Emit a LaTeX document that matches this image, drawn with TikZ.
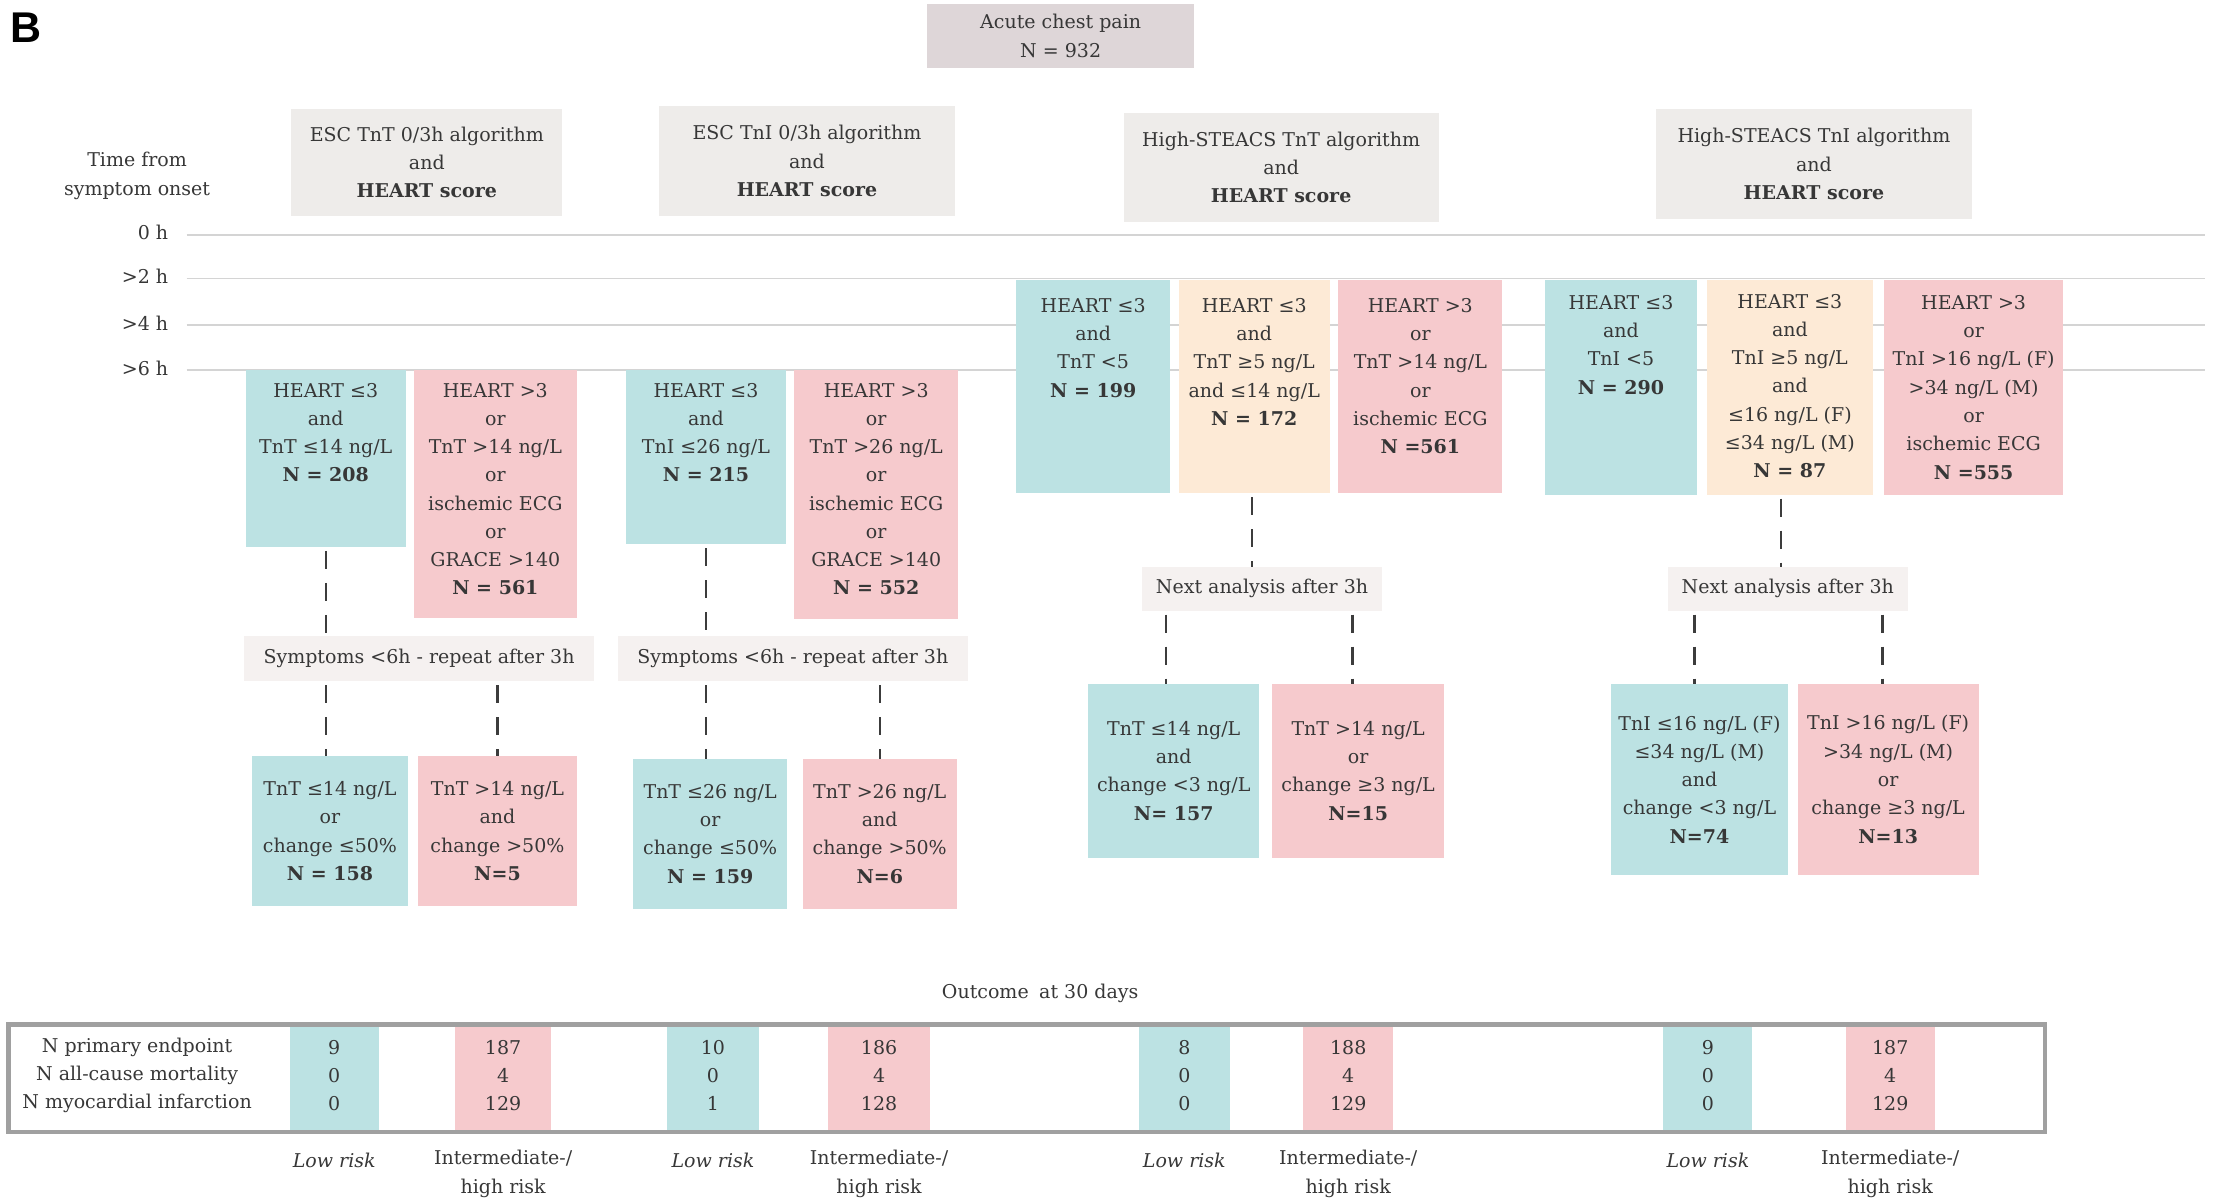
\documentclass[tikz,border=0pt]{standalone}
\usepackage{fontspec}
\setmainfont{DejaVu Serif}
\newfontfamily\labfont{Liberation Sans}
\usetikzlibrary{fit,calc}
\definecolor{tealc}{RGB}{188,226,227}
\definecolor{pinkc}{RGB}{246,202,205}
\definecolor{peachc}{RGB}{253,234,214}
\definecolor{headc}{RGB}{238,236,234}
\definecolor{acutec}{RGB}{222,214,216}
\definecolor{softc}{RGB}{245,241,240}
\definecolor{textc}{RGB}{55,55,55}
\definecolor{linec}{RGB}{212,212,212}
\definecolor{dashc}{RGB}{60,60,60}
\definecolor{bordc}{RGB}{160,160,160}
\tikzset{
  txt/.style={inner sep=0pt, outer sep=0pt, align=center, text=textc, font=\fontsize{9.5}{14.13}\selectfont},
  bx/.style={inner sep=0pt, outer sep=0pt, draw=none},
  lowbox/.style={bx, fill=tealc},
  highbox/.style={bx, fill=pinkc},
  midbox/.style={bx, fill=peachc},
  headbox/.style={bx, fill=headc},
  softbox/.style={bx, fill=softc},
  acutebox/.style={bx, fill=acutec},
  tline/.style={draw=linec, line width=0.9pt},
  dline/.style={draw=dashc, line width=1.2pt, dash pattern=on 9pt off 7pt, dash phase=-2pt},
}
% top-aligned box: name, style, corners, first-line y, text
\newcommand\tbox[5]{%
  \node[#2, fit={#3}] (#1) {};
  \node[txt, anchor=north] (#1-t) at (#1.north |- 0,#4-5) {#5};}
% centred box: name, style, corners, text
\newcommand\cbox[4]{%
  \node[#2, fit={#3}] (#1) {};
  \node[txt] (#1-t) at (#1.center) {#4};}
\begin{document}
\begin{tikzpicture}[x=0.70665pt, y=-0.70665pt]
\useasboundingbox (0,0) rectangle (1568,851);

\node[inner sep=0pt, anchor=base west, font=\labfont\bfseries\fontsize{21.5}{22}\selectfont] (lab) at (7,30) {B};

% time axis
\foreach \yy/\lbl [count=\k] in {166/0 h, 197/>2 h, 230/>4 h, 262/>6 h}{
  \draw[tline] (132,\yy) -- (1560,\yy);
  \node[txt, anchor=east] (tl\k) at (119,\yy-1.5) {\lbl};
}
\node[txt] (timelab) at (97,124.5) {Time from\\symptom onset};

% root
\cbox{acute}{acutebox}{(656,3) (845,48)}{Acute chest pain\\N = 932}

% headers
\cbox{h1}{headbox}{(206,77) (398,153)}{ESC TnT 0/3h algorithm\\and\\\textbf{HEART score}}
\cbox{h2}{headbox}{(466,75) (676,153)}{ESC TnI 0/3h algorithm\\and\\\textbf{HEART score}}
\cbox{h3}{headbox}{(795,80) (1018,157)}{High-STEACS TnT algorithm\\and\\\textbf{HEART score}}
\cbox{h4}{headbox}{(1172,77) (1395,155)}{High-STEACS TnI algorithm\\and\\\textbf{HEART score}}

% ESC TnT
\tbox{e1l}{lowbox}{(174,262) (287,387)}{276}{HEART ≤3\\and\\TnT ≤14 ng/L\\\textbf{N = 208}}
\tbox{e1h}{highbox}{(293,262) (408,437)}{276}{HEART >3\\or\\TnT >14 ng/L\\or\\ischemic ECG\\or\\GRACE >140\\\textbf{N = 561}}
\cbox{s1}{softbox}{(173,450) (420,482)}{Symptoms <6h - repeat after 3h}
\cbox{e1bl}{lowbox}{(178,535) (289,641)}{TnT ≤14 ng/L\\or\\change ≤50\%\\\textbf{N = 158}}
\cbox{e1bh}{highbox}{(296,535) (408,641)}{TnT >14 ng/L\\and\\change >50\%\\\textbf{N=5}}
\draw[dline] (e1l.south) -- (e1l.south |- s1.north);
\draw[dline] (s1.south -| e1l.south) -- (e1bl.north -| e1l.south);
\draw[dline] (s1.south -| e1bh.north) -- (e1bh.north);

% ESC TnI
\tbox{e2l}{lowbox}{(443,262) (556,385)}{276}{HEART ≤3\\and\\TnI ≤26 ng/L\\\textbf{N = 215}}
\tbox{e2h}{highbox}{(562,262) (678,438)}{276}{HEART >3\\or\\TnT >26 ng/L\\or\\ischemic ECG\\or\\GRACE >140\\\textbf{N = 552}}
\cbox{s2}{softbox}{(437,450) (685,482)}{Symptoms <6h - repeat after 3h}
\cbox{e2bl}{lowbox}{(448,537) (557,643)}{TnT ≤26 ng/L\\or\\change ≤50\%\\\textbf{N = 159}}
\cbox{e2bh}{highbox}{(568,537) (677,643)}{TnT >26 ng/L\\and\\change >50\%\\\textbf{N=6}}
\draw[dline] (e2l.south) -- (e2l.south |- s2.north);
\draw[dline] (s2.south -| e2l.south) -- (e2bl.north -| e2l.south);
\draw[dline] (s2.south -| e2bh.north) -- (e2bh.north);

% High-STEACS TnT
\tbox{t1}{lowbox}{(719,198) (828,349)}{216}{HEART ≤3\\and\\TnT <5\\\textbf{N = 199}}
\tbox{t2}{midbox}{(834,198) (941,349)}{216}{HEART ≤3\\and\\TnT ≥5 ng/L\\and ≤14 ng/L\\\textbf{N = 172}}
\tbox{t3}{highbox}{(947,198) (1063,349)}{216}{HEART >3\\or\\TnT >14 ng/L\\or\\ischemic ECG\\\textbf{N =561}}
\cbox{n1}{softbox}{(808,401) (978,432)}{Next analysis after 3h}
\cbox{t4}{lowbox}{(770,484) (891,607)}{TnT ≤14 ng/L\\and\\change <3 ng/L\\\textbf{N= 157}}
\cbox{t5}{highbox}{(900,484) (1022,607)}{TnT >14 ng/L\\or\\change ≥3 ng/L\\\textbf{N=15}}
\coordinate (d3a) at (886,0);
\coordinate (d3b) at (825,0);
\coordinate (d3c) at (957,0);
\draw[dline] (t2.south -| d3a) -- (n1.north -| d3a);
\draw[dline] (n1.south -| d3b) -- (t4.north -| d3b);
\draw[dline] (n1.south -| d3c) -- (t5.north -| d3c);

% High-STEACS TnI
\tbox{i1}{lowbox}{(1093,198) (1201,350)}{214}{HEART ≤3\\and\\TnI <5\\\textbf{N = 290}}
\tbox{i2}{midbox}{(1208,198) (1325,350)}{213}{HEART ≤3\\and\\TnI ≥5 ng/L\\and\\≤16 ng/L (F)\\≤34 ng/L (M)\\\textbf{N = 87}}
\tbox{i3}{highbox}{(1333,198) (1460,350)}{214}{HEART >3\\or\\TnI >16 ng/L (F)\\>34 ng/L (M)\\or\\ischemic ECG\\\textbf{N =555}}
\cbox{n2}{softbox}{(1180,401) (1350,432)}{Next analysis after 3h}
\cbox{i4}{lowbox}{(1140,484) (1265,619)}{TnI ≤16 ng/L (F)\\≤34 ng/L (M)\\and\\change <3 ng/L\\\textbf{N=74}}
\cbox{i5}{highbox}{(1272,484) (1400,619)}{TnI >16 ng/L (F)\\>34 ng/L (M)\\or\\change ≥3 ng/L\\\textbf{N=13}}
\coordinate (d4a) at (1260,0);
\coordinate (d4b) at (1199,0);
\coordinate (d4c) at (1332,0);
\draw[dline] (i2.south -| d4a) -- (n2.north -| d4a);
\draw[dline] (n2.south -| d4b) -- (i4.north -| d4b);
\draw[dline] (n2.south -| d4c) -- (i5.north -| d4c);

% Outcome table
\node[txt] (outc) at (736,703) {Outcome\hspace{0.55em}at 30 days};
\node[txt] (rows) at (97,761) {N primary endpoint\\N all-cause mortality\\N myocardial infarction};
\foreach \nm/\st/\xa/\xb/\vals in {
  c1/lowbox/205/268/{9\\0\\0},
  c2/highbox/322/390/{187\\4\\129},
  c3/lowbox/472/537/{10\\0\\1},
  c4/highbox/586/658/{186\\4\\128},
  c5/lowbox/806/870/{8\\0\\0},
  c6/highbox/922/986/{188\\4\\129},
  c7/lowbox/1177/1240/{9\\0\\0},
  c8/highbox/1306/1369/{187\\4\\129}}{
  \node[\st, fit={(\xa,725) (\xb,801)}] (\nm) {};
  \node[txt] (\nm-t) at ([yshift=1.4pt]\nm.center) {\vals};
}
\node[bx, draw=bordc, line width=2.2pt, fit={(6,725) (1447,801)}] (tbl) {};
\foreach \nm in {c1,c3,c5,c7}{
  \node[txt, font=\fontsize{9.5}{14.13}\selectfont\itshape] (\nm-r) at (\nm.center |- 0,821) {Low risk};
}
\foreach \nm in {c2,c4,c6,c8}{
  \node[txt, anchor=north] (\nm-r) at (\nm.center |- 0,814) {Intermediate-/\\high risk};
}
\end{tikzpicture}
\end{document}
